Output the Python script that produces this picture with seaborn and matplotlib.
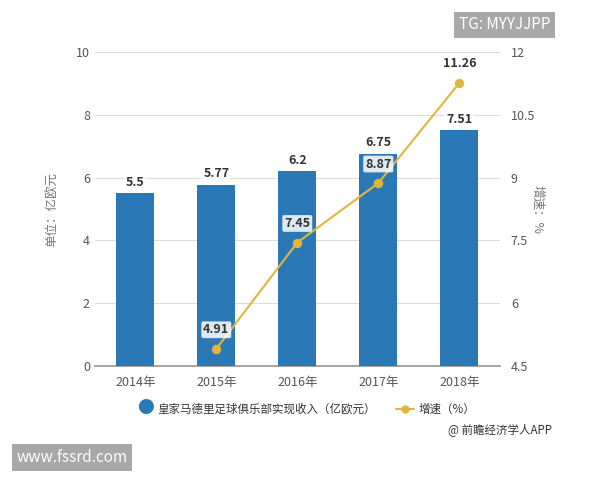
import numpy as np
import pandas as pd
import matplotlib
matplotlib.use('Agg')
import matplotlib.pyplot as plt
import seaborn as sns

years = ['2014年', '2015年', '2016年', '2017年', '2018年']
revenue = [5.5, 5.77, 6.2, 6.75, 7.51]
growth_years = ['2015年', '2016年', '2017年', '2018年']
growth = [4.91, 7.45, 8.87, 11.26]

sns.set_theme(style='white')
plt.rcParams['font.family'] = ['Noto Sans CJK SC', 'DejaVu Sans']

bar_color = '#2a78b5'
line_color = '#e0b73c'

df = pd.DataFrame({'year': years, 'revenue': revenue})
fig = plt.figure(figsize=(6, 4.8), dpi=100)
ax = fig.add_axes([0.158, 0.2375, 0.675, 0.654])
sns.barplot(data=df, x='year', y='revenue', color=bar_color, width=0.47,
            saturation=1, linewidth=0, ax=ax, zorder=3)
ax.set_ylim(0, 10)
ax.set_yticks([0, 2, 4, 6, 8, 10])
ax.set_xlim(-0.5, 4.5)
ax.grid(axis='y', color='#dddddd', lw=0.8, zorder=0)
ax.set_xlabel('')
ax.set_ylabel('单位：亿欧元', fontsize=9, color='#777777', labelpad=12)
for s in ['top', 'right', 'left']:
    ax.spines[s].set_visible(False)
ax.spines['bottom'].set_color('#999999')
ax.tick_params(axis='both', labelsize=9, colors='#555555', length=0)
ax.tick_params(axis='x', length=4, color='#999999')
for i, v in enumerate(revenue):
    ax.text(i, v + 0.15, f'{v:g}', ha='center', va='bottom', fontsize=9,
            fontweight='bold', color='#333333', zorder=5,
            bbox=dict(boxstyle='round,pad=0.15', fc='white', ec='none', alpha=0.85))

ax2 = ax.twinx()
gx = [years.index(y) for y in growth_years]
sns.lineplot(x=gx, y=growth, color=line_color, lw=1.5, marker='o', markersize=6,
             markeredgecolor=line_color, ax=ax2, zorder=4)
ax2.set_ylim(4.5, 12)
ax2.set_yticks([4.5, 6, 7.5, 9, 10.5, 12])
ax2.set_yticklabels(['4.5', '6', '7.5', '9', '10.5', '12'])
ax2.set_ylabel('增速：%', fontsize=9, color='#777777', rotation=-90, labelpad=6)
for s in ax2.spines.values():
    s.set_visible(False)
ax2.tick_params(axis='y', labelsize=9, colors='#555555', length=0, pad=8)
for x, v in zip(gx, growth):
    ax2.text(x, v + 0.3, f'{v:g}', ha='center', va='bottom', fontsize=9,
             fontweight='bold', color='#333333', zorder=6,
             bbox=dict(boxstyle='round,pad=0.15', fc='white', ec='none', alpha=0.85))

# legend
fig.text(0.228, 0.150, '●', color=bar_color, fontsize=12, ha='left', va='center')
fig.text(0.262, 0.148, '皇家马德里足球俱乐部实现收入（亿欧元）', fontsize=8.3,
         color='#333333', ha='left', va='center')
fig.lines.append(plt.Line2D([0.66, 0.69], [0.148, 0.148], transform=fig.transFigure,
                            color=line_color, lw=1.5))
fig.lines.append(plt.Line2D([0.675], [0.148], transform=fig.transFigure,
                            color=line_color, marker='o', markersize=5))
fig.text(0.697, 0.148, '增速（%）', fontsize=8.3, color='#333333', ha='left', va='center')
fig.text(0.92, 0.105, '@ 前瞻经济学人APP', fontsize=8.3, color='#333333', ha='right', va='center')

# watermarks
fig.text(0.765, 0.948, 'TG: MYYJJPP', fontsize=11, color='white', ha='left', va='center',
         bbox=dict(boxstyle='square,pad=0.3', fc='#a8a8a8', ec='none'))
fig.text(0.027, 0.047, 'www.fssrd.com', fontsize=11, color='white', ha='left', va='center',
         bbox=dict(boxstyle='square,pad=0.3', fc='#a8a8a8', ec='none'))

fig.savefig('out.png', dpi=100)
